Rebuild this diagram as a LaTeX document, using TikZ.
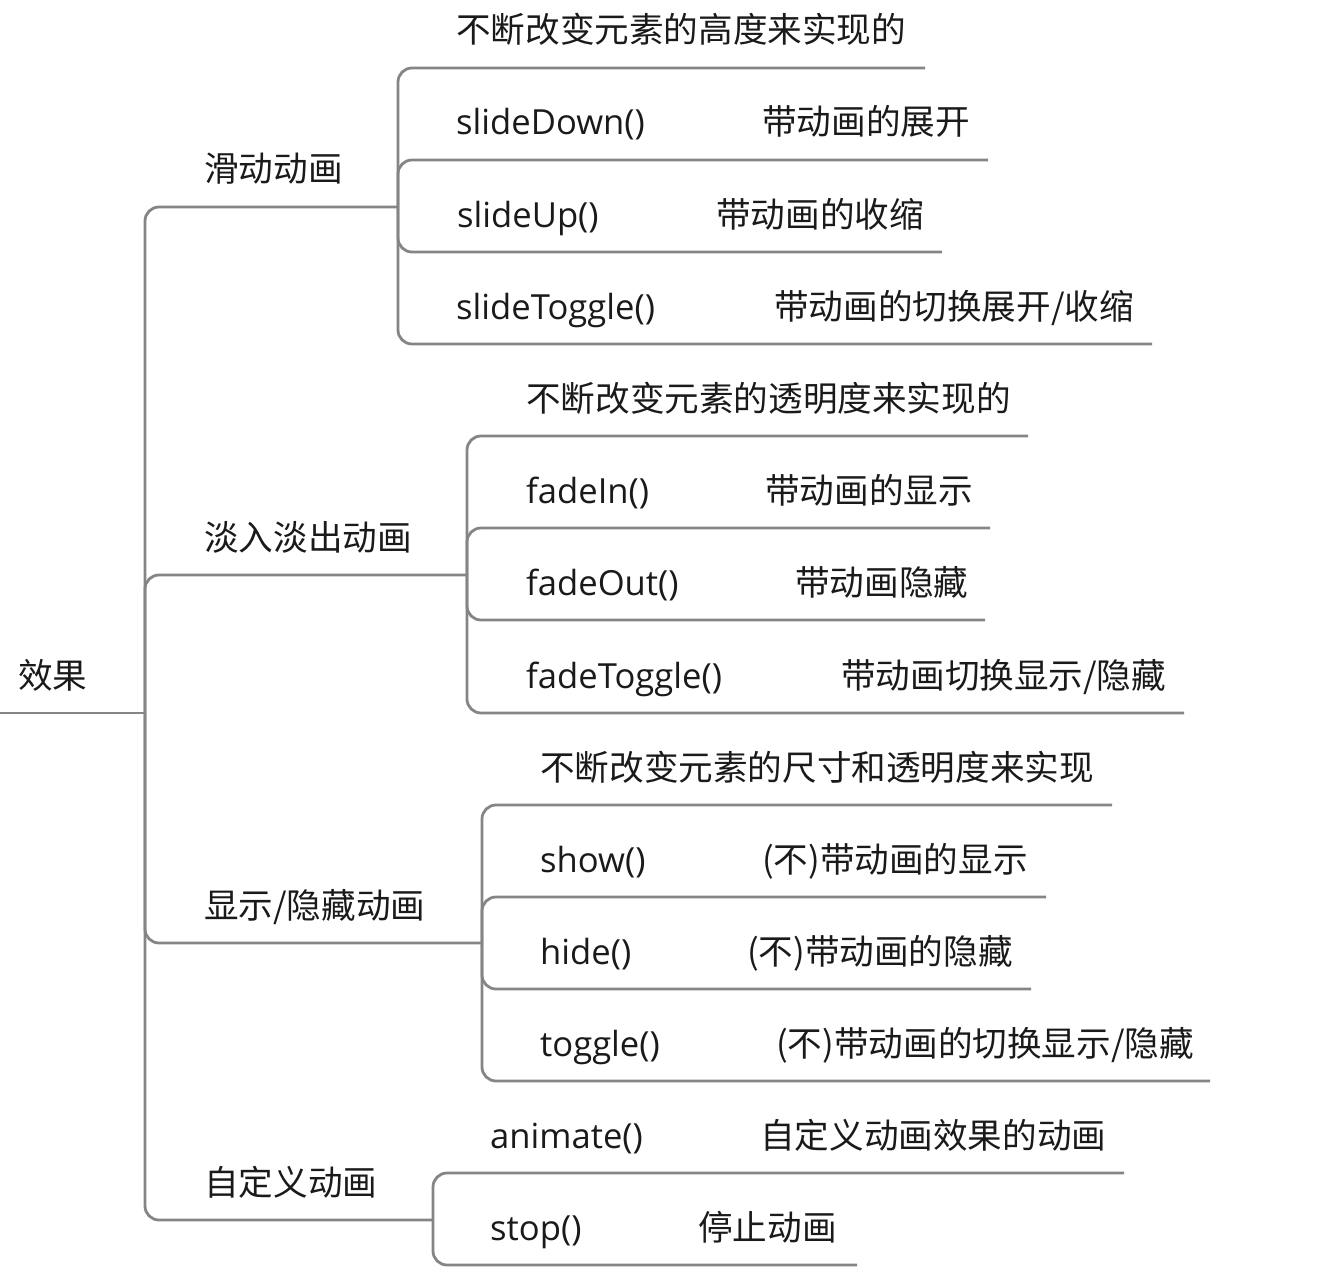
\documentclass[tikz,border=0pt]{standalone}
\usepackage{fontspec}
\setmainfont{Open Sans}
\newfontfamily\cn{Noto Sans CJK SC}
\definecolor{lngray}{HTML}{858585}
\definecolor{txt}{HTML}{1A1A1A}

\begin{document}
\begin{tikzpicture}[x=1pt, y=-1pt,
  font=\fontsize{34.6}{40}\selectfont, text=txt,
  lbl/.style={anchor=base west, inner sep=0pt},
  cnl/.style={lbl, font=\fontsize{34.6}{40}\selectfont\cn},
  ln/.style={draw=lngray, line width=2.8pt, rounded corners=14pt}]
  \useasboundingbox (0,0) rectangle (1338,1276);
  % root and branch junctions
  \coordinate (rootstart) at (0,713);
  \coordinate (jroot) at (145,713);
  \coordinate (jslide) at (398,207);
  \coordinate (jfade) at (467,575);
  \coordinate (jshow) at (482,943);
  \coordinate (jcustom) at (433,1220);
  \node[cnl] (root) at (18,688) {效果};
  \node[cnl] (slide) at (204,182) {滑动动画};
  \node[cnl] (fade) at (204,550) {淡入淡出动画};
  \node[cnl] (show) at (204,918) {显示/隐藏动画};
  \node[cnl] (custom) at (204,1195) {自定义动画};
  \draw[ln] (rootstart) -- (jroot);
  \draw[ln] (jroot) |- (jslide);
  \draw[ln] (jroot) |- (jfade);
  \draw[ln] (jroot) |- (jshow);
  \draw[ln] (jroot) |- (jcustom);
  % slide
  \node[cnl] (sdesc) at (456,43) {不断改变元素的高度来实现的};
  \node[lbl] (sdown) at (456,135) {slideDown()};
  \node[cnl] (sdownn) at (762,135) {带动画的展开};
  \node[lbl] (sup) at (457,227) {slideUp()};
  \node[cnl] (supn) at (716,227) {带动画的收缩};
  \node[lbl] (stog) at (456,319) {slideToggle()};
  \node[cnl] (stogn) at (774,319) {带动画的切换展开/收缩};
  \coordinate (sdescend) at (925,68);
  \coordinate (sdownend) at (988,160);
  \coordinate (supend) at (942,252);
  \coordinate (stogend) at (1152,344);
  \draw[ln] (jslide) |- (sdescend);
  \draw[ln] (jslide) |- (sdownend);
  \draw[ln] (jslide) |- (supend);
  \draw[ln] (jslide) |- (stogend);
  % fade
  \node[cnl] (fdesc) at (526,411) {不断改变元素的透明度来实现的};
  \node[lbl] (fin) at (526,503) {fadeIn()};
  \node[cnl] (finn) at (765,503) {带动画的显示};
  \node[lbl] (fout) at (526,595) {fadeOut()};
  \node[cnl] (foutn) at (795,595) {带动画隐藏};
  \node[lbl] (ftog) at (526,688) {fadeToggle()};
  \node[cnl] (ftogn) at (841,688) {带动画切换显示/隐藏};
  \coordinate (fdescend) at (1028,436);
  \coordinate (finend) at (990,528);
  \coordinate (foutend) at (985,620);
  \coordinate (ftogend) at (1184,713);
  \draw[ln] (jfade) |- (fdescend);
  \draw[ln] (jfade) |- (finend);
  \draw[ln] (jfade) |- (foutend);
  \draw[ln] (jfade) |- (ftogend);
  % show / hide
  \node[cnl] (hdesc) at (540,780) {不断改变元素的尺寸和透明度来实现};
  \node[lbl] (hshow) at (540,872) {show()};
  \node[cnl] (hshown) at (762,872) {(不)带动画的显示};
  \node[lbl] (hhide) at (540,964) {hide()};
  \node[cnl] (hhiden) at (747,964) {(不)带动画的隐藏};
  \node[lbl] (htog) at (540,1056) {toggle()};
  \node[cnl] (htogn) at (776,1056) {(不)带动画的切换显示/隐藏};
  \coordinate (hdescend) at (1112,805);
  \coordinate (hshowend) at (1046,897);
  \coordinate (hhideend) at (1031,989);
  \coordinate (htogend) at (1210,1081);
  \draw[ln] (jshow) |- (hdescend);
  \draw[ln] (jshow) |- (hshowend);
  \draw[ln] (jshow) |- (hhideend);
  \draw[ln] (jshow) |- (htogend);
  % custom
  \node[lbl] (canim) at (490,1148) {animate()};
  \node[cnl] (canimn) at (760,1148) {自定义动画效果的动画};
  \node[lbl] (cstop) at (490,1240) {stop()};
  \node[cnl] (cstopn) at (698,1240) {停止动画};
  \coordinate (canimend) at (1124,1173);
  \coordinate (cstopend) at (857,1265);
  \draw[ln] (jcustom) |- (canimend);
  \draw[ln] (jcustom) |- (cstopend);
\end{tikzpicture}
\end{document}
